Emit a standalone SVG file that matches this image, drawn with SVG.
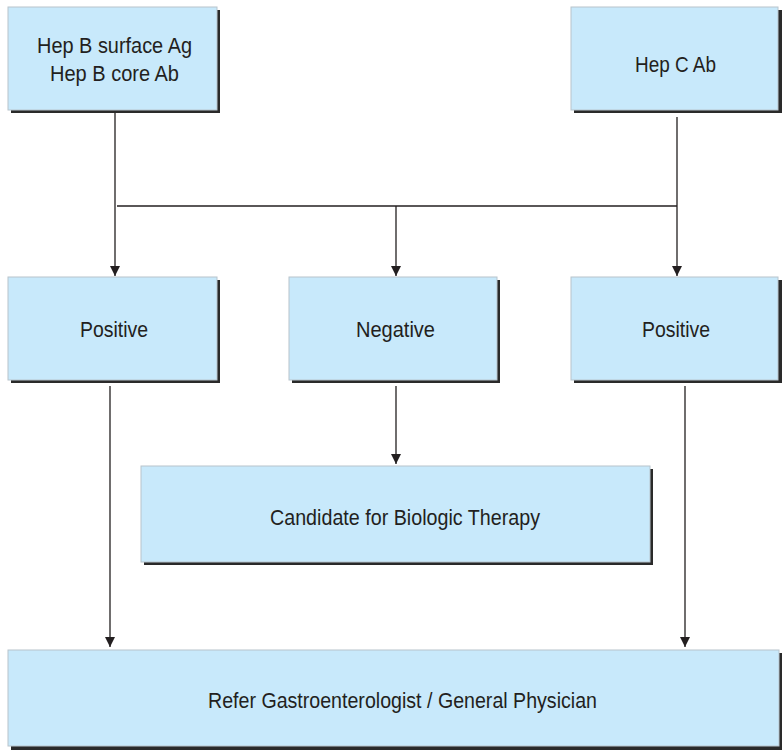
<svg xmlns="http://www.w3.org/2000/svg" width="782" height="750" viewBox="0 0 782 750">
<defs>
<style>
.sh{fill:#2a2a2a}
.bx{fill:#c8e9fb;stroke:#b8c4cc;stroke-width:1}
.t{font-family:"Liberation Sans",Arial,sans-serif;font-size:22px;fill:#231f20;text-anchor:middle}
.ln{stroke:#231f20;stroke-width:1.3;fill:none}
</style>
<marker id="ar" viewBox="0 0 10 10" refX="10" refY="5" markerWidth="10" markerHeight="10" markerUnits="userSpaceOnUse" orient="auto">
<path d="M0,0 L10,5 L0,10 Z" fill="#231f20"/>
</marker>
</defs>
<rect width="782" height="750" fill="#ffffff"/>
<g id="connectors">
<line class="ln" x1="115" y1="112" x2="115" y2="276" marker-end="url(#ar)"/>
<line class="ln" x1="677" y1="117" x2="677" y2="276" marker-end="url(#ar)"/>
<line class="ln" x1="117" y1="206" x2="677" y2="206"/>
<line class="ln" x1="396" y1="206" x2="396" y2="276" marker-end="url(#ar)"/>
<line class="ln" x1="396" y1="386" x2="396" y2="464" marker-end="url(#ar)"/>
<line class="ln" x1="110" y1="386" x2="110" y2="647" marker-end="url(#ar)"/>
<line class="ln" x1="685" y1="386" x2="685" y2="647" marker-end="url(#ar)"/>
</g>
<g id="hepb">
<rect class="sh" x="11" y="10" width="209" height="103"/>
<rect class="bx" x="8" y="7" width="209" height="103"/>
<text class="t" x="114.5" y="53" textLength="155" lengthAdjust="spacingAndGlyphs">Hep B surface Ag</text>
<text class="t" x="114.5" y="81" textLength="129" lengthAdjust="spacingAndGlyphs">Hep B core Ab</text>
</g>
<g id="hepc">
<rect class="sh" x="574" y="10" width="208" height="103"/>
<rect class="bx" x="571" y="7" width="207" height="103"/>
<text class="t" x="675.5" y="72" textLength="81" lengthAdjust="spacingAndGlyphs">Hep C Ab</text>
</g>
<g id="pos1">
<rect class="sh" x="11" y="280" width="209" height="103"/>
<rect class="bx" x="8" y="277" width="209" height="103"/>
<text class="t" x="114" y="337" textLength="68" lengthAdjust="spacingAndGlyphs">Positive</text>
</g>
<g id="neg">
<rect class="sh" x="292" y="280" width="208" height="103"/>
<rect class="bx" x="289" y="277" width="208" height="103"/>
<text class="t" x="395.5" y="337" textLength="79" lengthAdjust="spacingAndGlyphs">Negative</text>
</g>
<g id="pos2">
<rect class="sh" x="574" y="280" width="208" height="103"/>
<rect class="bx" x="571" y="277" width="207" height="103"/>
<text class="t" x="676" y="337" textLength="68" lengthAdjust="spacingAndGlyphs">Positive</text>
</g>
<g id="candidate">
<rect class="sh" x="144" y="469" width="509" height="96"/>
<rect class="bx" x="141" y="466" width="509" height="96"/>
<text class="t" x="405" y="525" textLength="270" lengthAdjust="spacingAndGlyphs">Candidate for Biologic Therapy</text>
</g>
<g id="refer">
<rect class="sh" x="11" y="653" width="771" height="97"/>
<rect class="bx" x="8" y="650" width="771" height="96"/>
<text class="t" x="402.5" y="708" textLength="389" lengthAdjust="spacingAndGlyphs">Refer Gastroenterologist / General Physician</text>
</g>
</svg>
